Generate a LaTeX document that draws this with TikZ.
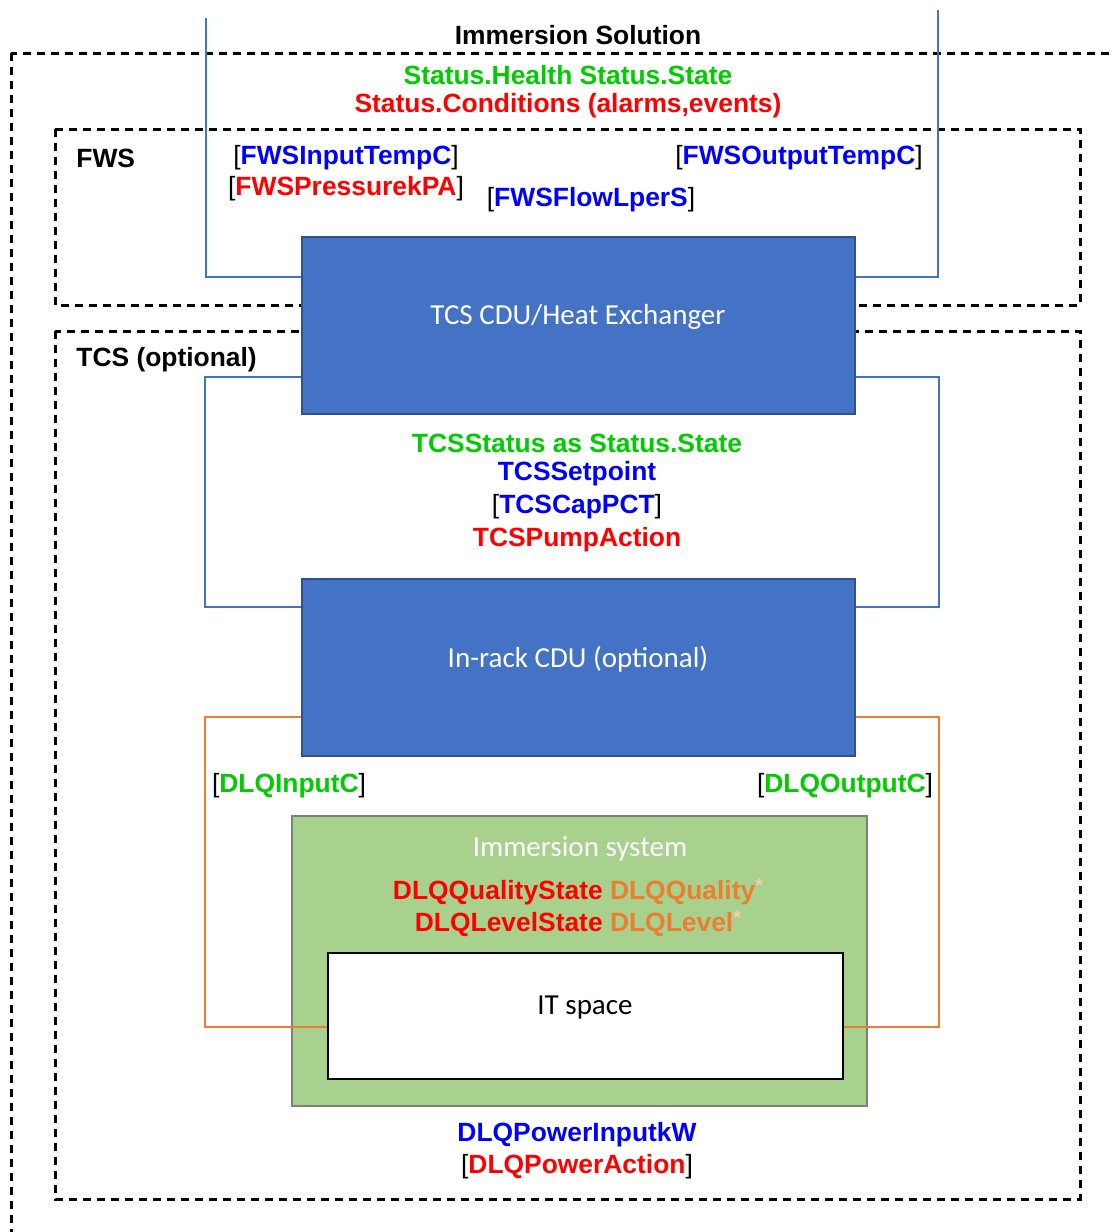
\documentclass[tikz,border=0pt]{standalone}
\usepackage{fontspec}
\setmainfont{Liberation Sans}
\newfontfamily\calfont{Carlito}
\usetikzlibrary{calc}

\definecolor{boxblue}{HTML}{4472C4}
\definecolor{boxedge}{HTML}{2F528F}
\definecolor{immgreen}{HTML}{A9D18E}
\definecolor{immedge}{HTML}{7F7F7F}
\definecolor{txtgreen}{RGB}{0,204,0}
\definecolor{txtblue}{RGB}{0,0,255}
\definecolor{txtred}{RGB}{255,0,0}
\definecolor{pipeorange}{HTML}{ED7D31}
\definecolor{starpink}{HTML}{F8CBAD}

\newcommand{\brk}[2]{{\mdseries[}\textcolor{#1}{#2}{\mdseries]}}
\newcommand{\starmark}{\raisebox{0.25em}{\fontsize{10}{10}\selectfont\textcolor{starpink}{*}}}

\begin{document}
\begin{tikzpicture}[x=0.5pt,y=-0.5pt]
		\tikzstyle {zone} = [draw=black, line width=1.5pt, dash pattern=on 4pt off 3pt]
		\tikzstyle {unit} = [draw=boxedge, line width=1pt, fill=boxblue, inner sep=0pt]
		\tikzstyle {unit text} = [text=white, font=\calfont\fontsize{14.5}{17}\selectfont, inner sep=0pt, yshift=-1pt]
		\tikzstyle {pipe} = [boxblue, line width=1.1pt]
		\tikzstyle {loop} = [pipeorange, line width=1.1pt]
		\tikzstyle {tag} = [font=\fontsize{13.2}{15.8}\selectfont\bfseries, inner sep=0pt, yshift=-1pt]

		\useasboundingbox (0,0) rectangle (1112,1232);
		\clip (0,0) rectangle (1112,1232);

		% dashed zones
		\draw[zone] (11,53) rectangle (1130,1233);
		\draw[zone] (55,129) rectangle (1080,305);
		\draw[zone] (55,331) rectangle (1080,1199);

		% units
		\node[unit, minimum width=276.5pt, minimum height=88.5pt] (hx) at (578.5,325.5) {};
		\node[unit text] (hxlabel) at (578,315) {TCS CDU/Heat Exchanger};
		\node[unit, minimum width=276.5pt, minimum height=88.5pt] (rack) at (578.5,667.5) {};
		\node[unit text] (racklabel) at (578,657) {In-rack CDU (optional)};
		\node[draw=immedge, line width=1.2pt, fill=immgreen, minimum width=287.5pt, minimum height=145pt, inner sep=0pt] (imm) at (579.5,961) {};
		\node[unit text] (immlabel) at (580,847) {Immersion system};
		\node[draw=black, line width=1.2pt, fill=white, minimum width=257.5pt, minimum height=63pt, inner sep=0pt] (it) at (585.5,1016) {};
		\node[unit text, text=black] (itlabel) at (585,1006) {IT space};

		% facility water pipes
		\coordinate (fwsinpipe) at (206,18);
		\coordinate (fwsoutpipe) at (938,10);
		\draw[pipe] (fwsinpipe) |- (hx.west |- 0,277);
		\draw[pipe] (fwsoutpipe) |- (hx.east |- 0,277);

		% TCS loop
		\draw[pipe] (hx.west |- 0,377) -- ++(-96,0) |- (rack.west |- 0,607);
		\draw[pipe] (hx.east |- 0,377) -- ++(83,0) |- (rack.east |- 0,607);

		% liquid loop
		\draw[loop] (rack.west |- 0,717) -- ++(-96,0) |- (it.west |- 0,1027);
		\draw[loop] (rack.east |- 0,717) -- ++(83,0) |- (it.east |- 0,1027);

		\node[tag] (title) at (578,33) {Immersion Solution};
		\node[tag, txtgreen] (health) at (568,73) {Status.Health Status.State};
		\node[tag, txtred] (cond) at (568,104) {Status.Conditions (alarms,events)};

		\node[tag, anchor=west] (fws) at (76,156) {FWS};
		\node[tag] (fwsintemp) at (346,156) {\brk{txtblue}{FWSInputTempC}};
		\node[tag] (fwspress) at (346,187) {\brk{txtred}{FWSPressurekPA}};
		\node[tag] (fwsflow) at (591,198) {\brk{txtblue}{FWSFlowLperS}};
		\node[tag] (fwsouttemp) at (799,156) {\brk{txtblue}{FWSOutputTempC}};

		\node[tag, anchor=west] (tcs) at (76,358) {TCS (optional)};
		\node[tag, txtgreen] (tcsstatus) at (577,441) {TCSStatus as Status.State};
		\node[tag, txtblue] (tcsset) at (577,472) {TCSSetpoint};
		\node[tag] (tcscap) at (577,505) {\brk{txtblue}{TCSCapPCT}};
		\node[tag, txtred] (tcspump) at (577,538) {TCSPumpAction};

		\node[tag] (dlqin) at (289,784) {\brk{txtgreen}{DLQInputC}};
		\node[tag] (dlqout) at (845,784) {\brk{txtgreen}{DLQOutputC}};

		\node[tag] (quality) at (578,890) {\textcolor{txtred}{DLQQualityState} \textcolor{pipeorange}{DLQQuality}\starmark};
		\node[tag] (level) at (578,922) {\textcolor{txtred}{DLQLevelState} \textcolor{pipeorange}{DLQLevel}\starmark};

		\node[tag, txtblue] (power) at (577,1133) {DLQPowerInputkW};
		\node[tag] (poweract) at (577,1165) {\brk{txtred}{DLQPowerAction}};
\end{tikzpicture}
\end{document}
